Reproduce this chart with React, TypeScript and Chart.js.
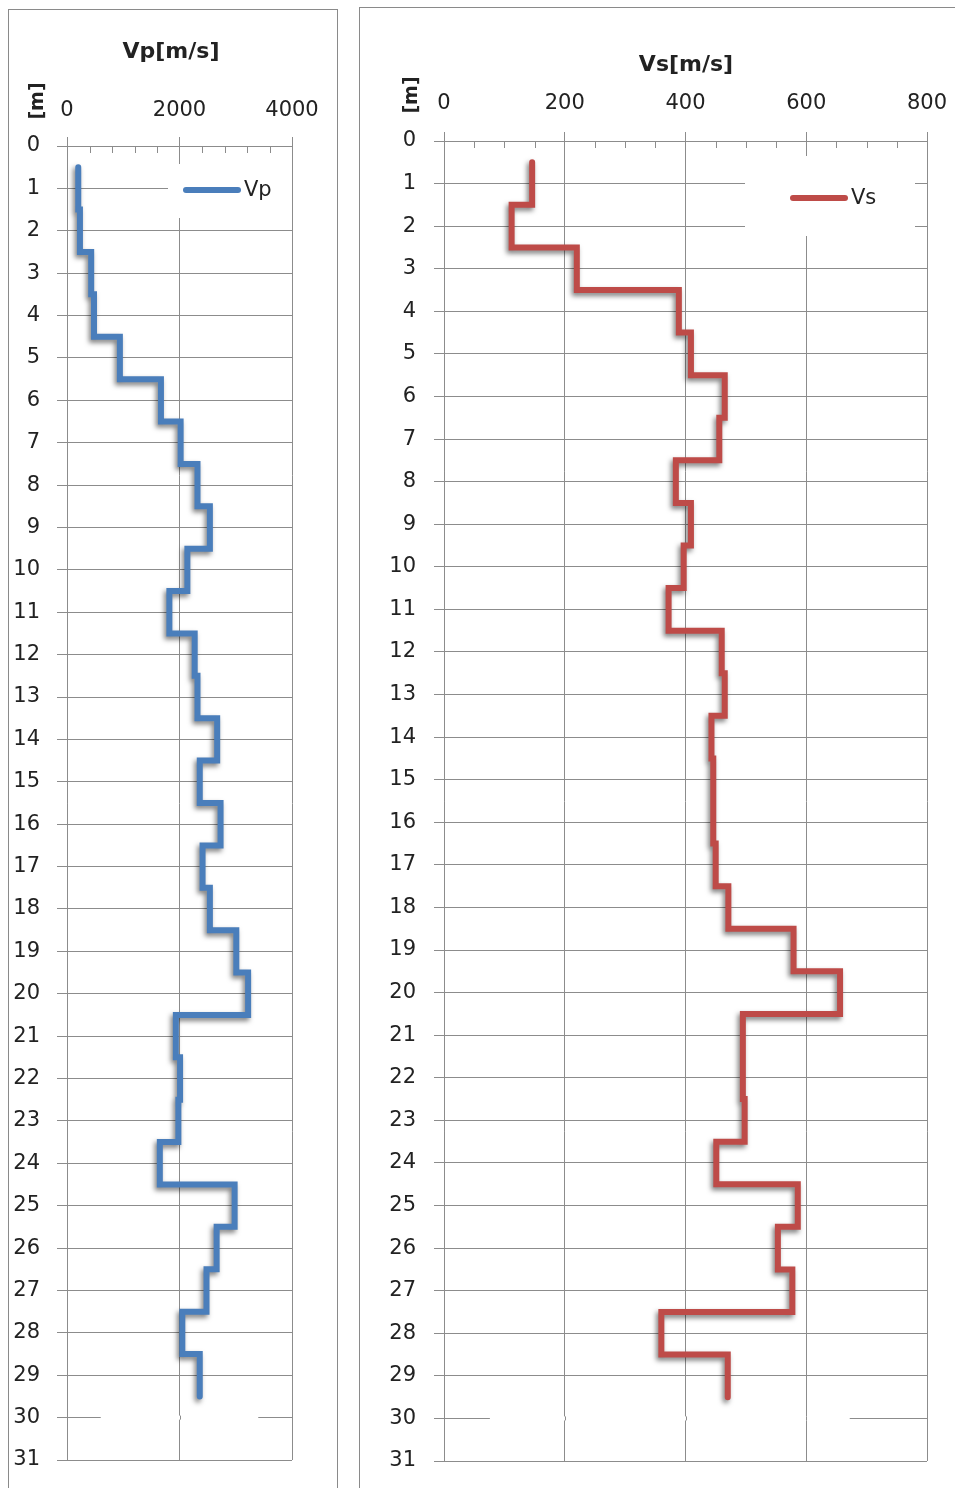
import React, { useEffect, useRef } from 'react';
import { Chart, registerables } from 'chart.js';

Chart.register(...registerables);

// ---- data ----
const depthBounds = [
  0.5, 1.5, 2.5, 3.5, 4.5, 5.5, 6.5, 7.5, 8.5, 9.5,
  10.5, 11.5, 12.5, 13.5, 14.5, 15.5, 16.5, 17.5, 18.5, 19.5,
  20.5, 21.5, 22.5, 23.5, 24.5, 25.5, 26.5, 27.5, 28.5, 29.5,
];
const vpValues = [
  200, 230, 430, 480, 940, 1670, 2020, 2320, 2540, 2140,
  1820, 2270, 2320, 2670, 2360, 2730, 2410, 2540, 3010, 3220,
  1935, 2010, 1980, 1650, 2980, 2660, 2480, 2050, 2360,
];
const vsValues = [
  146, 112, 220, 389, 409, 465, 456, 384, 409, 397,
  372, 460, 465, 443, 446, 446, 450, 471, 579, 656,
  495, 495, 498, 451, 586, 553, 577, 360, 470,
];
const depthTicks = [
  0, 1, 2, 3, 4, 5, 6, 7, 8, 9, 10, 11, 12, 13, 14, 15,
  16, 17, 18, 19, 20, 21, 22, 23, 24, 25, 26, 27, 28, 29, 30, 31,
];
const vpTicks = [0, 2000, 4000];
const vsTicks = [0, 200, 400, 600, 800];
const vpMinorStep = 400;
const vsMinorStep = 50;

const FONT = '"DejaVu Sans", sans-serif';
const GRID = '#8c8c8c';
const TEXT = '#222222';
const VP_COLOR = '#4A7EBB';
const VS_COLOR = '#BE4B48';

function buildSteps(values: number[]) {
  const pts = values.map((v, i) => ({ x: v, y: depthBounds[i] }));
  pts.push({ x: values[values.length - 1], y: depthBounds[values.length] });
  return pts;
}

const decorPlugin = {
  id: 'decor',
  beforeDatasetsDraw(chart: any, _args: any, o: any) {
    const ctx = chart.ctx;
    const xs = chart.scales.x;
    const ys = chart.scales.y;
    const area = chart.chartArea;
    ctx.save();
    // minor tick marks (inside)
    ctx.strokeStyle = GRID;
    ctx.lineWidth = 1;
    ctx.beginPath();
    const majors: number[] = o.majorTicks;
    for (let v = xs.min; v <= xs.max + 1e-9; v += o.minorStep) {
      if (majors.some((m: number) => Math.abs(m - v) < 1e-6)) continue;
      const px = Math.round(xs.getPixelForValue(v)) + 0.5;
      ctx.moveTo(px, area.top);
      ctx.lineTo(px, area.top + o.minorLen);
    }
    ctx.stroke();
    // partially hidden gridline
    const gy = ys.getPixelForValue(o.gapDepth);
    const w = area.right - area.left;
    const gx1 = area.left + w * o.gapFrom;
    const gx2 = area.left + w * o.gapTo;
    ctx.fillStyle = '#ffffff';
    ctx.fillRect(gx1, gy - 2, gx2 - gx1, 4);
    ctx.beginPath();
    for (const v of majors) {
      const px = Math.round(xs.getPixelForValue(v)) + 0.5;
      if (px > gx1 && px < gx2) {
        ctx.moveTo(px, gy - 2);
        ctx.lineTo(px, gy + 2);
      }
    }
    ctx.stroke();
    // legend
    const L = o.legend;
    const ds = chart.data.datasets[0];
    ctx.fillStyle = '#ffffff';
    ctx.fillRect(L.boxX, L.boxY, L.boxW, L.boxH);
    ctx.strokeStyle = ds.borderColor;
    ctx.lineWidth = 6;
    ctx.lineCap = 'round';
    ctx.beginPath();
    ctx.moveTo(L.x1, L.y);
    ctx.lineTo(L.x2, L.y);
    ctx.stroke();
    ctx.fillStyle = TEXT;
    ctx.font = `21px ${FONT}`;
    ctx.textBaseline = 'middle';
    ctx.textAlign = 'left';
    ctx.fillText(ds.label, L.textX, L.y + 1);
    ctx.restore();
    // shadow for the data line
    ctx.save();
    ctx.shadowColor = 'rgba(0,0,0,0.5)';
    ctx.shadowBlur = 5;
    ctx.shadowOffsetX = -2;
    ctx.shadowOffsetY = 3;
  },
  afterDatasetsDraw(chart: any) {
    chart.ctx.restore();
  },
  afterDraw(chart: any, _args: any, o: any) {
    const ctx = chart.ctx;
    ctx.save();
    ctx.fillStyle = TEXT;
    ctx.font = `bold 22px ${FONT}`;
    ctx.textAlign = 'center';
    ctx.textBaseline = 'alphabetic';
    ctx.fillText(o.title, o.titleX, o.titleY);
    ctx.translate(o.unitX, o.unitY);
    ctx.rotate(-Math.PI / 2);
    ctx.font = `bold 19px ${FONT}`;
    ctx.textBaseline = 'middle';
    ctx.fillText(o.unit, 0, 0);
    ctx.restore();
  },
};

function zeroPadding(s: any) {
  s.paddingLeft = 0;
  s.paddingRight = 0;
  s.paddingTop = 0;
  s.paddingBottom = 0;
}

function makeConfig(opts: {
  label: string;
  values: number[];
  color: string;
  xTicks: number[];
  minorStep: number;
  xMax: number;
  padRight: number;
  padBottom: number;
  xHeight: number;
  yWidth: number;
  xTickPad: number;
  yTickPad: number;
  xTickLen: number;
  decor: any;
}) {
  return {
    type: 'scatter' as const,
    data: {
      datasets: [
        {
          label: opts.label,
          data: buildSteps(opts.values),
          borderColor: opts.color,
          backgroundColor: opts.color,
          borderWidth: 6,
          showLine: true,
          stepped: 'after',
          pointRadius: 0,
          pointHoverRadius: 0,
          borderJoinStyle: 'miter',
          borderCapStyle: 'round',
          fill: false,
        },
      ],
    },
    options: {
      animation: false,
      responsive: false,
      events: [],
      layout: { padding: { left: 0, top: 0, right: opts.padRight, bottom: opts.padBottom } },
      scales: {
        x: {
          type: 'linear',
          position: 'top',
          min: 0,
          max: opts.xMax,
          afterBuildTicks: (s: any) => {
            s.ticks = opts.xTicks.map((v) => ({ value: v }));
          },
          afterFit: (s: any) => {
            s.height = opts.xHeight;
            zeroPadding(s);
          },
          ticks: {
            autoSkip: false,
            maxRotation: 0,
            padding: opts.xTickPad,
            color: TEXT,
            font: { family: FONT, size: 21 },
            callback: (v: any) => String(v),
          },
          grid: { color: GRID, lineWidth: 1, tickLength: opts.xTickLen, drawTicks: true },
          border: { display: true, color: GRID, width: 1 },
        },
        y: {
          type: 'linear',
          position: 'left',
          min: 0,
          max: 31,
          reverse: true,
          afterBuildTicks: (s: any) => {
            s.ticks = depthTicks.map((v) => ({ value: v }));
          },
          afterFit: (s: any) => {
            s.width = opts.yWidth;
            zeroPadding(s);
          },
          ticks: {
            autoSkip: false,
            padding: opts.yTickPad,
            color: TEXT,
            font: { family: FONT, size: 21 },
            callback: (v: any) => String(v),
          },
          grid: { color: GRID, lineWidth: 1, tickLength: 10, drawTicks: true },
          border: { display: true, color: GRID, width: 1 },
        },
      },
      plugins: {
        legend: { display: false },
        tooltip: { enabled: false },
        title: { display: false },
        decor: { ...opts.decor, majorTicks: opts.xTicks, minorStep: opts.minorStep },
      },
    },
    plugins: [decorPlugin],
  };
}

function ChartCanvas({ config, left, width }: { config: any; left: number; width: number }) {
  const ref = useRef<HTMLCanvasElement | null>(null);
  useEffect(() => {
    if (!ref.current) return;
    const chart = new Chart(ref.current, config);
    return () => chart.destroy();
  }, []);
  return (
    <canvas
      ref={ref}
      width={width}
      height={1488}
      style={{ position: 'absolute', left, top: 0, width, height: 1488, display: 'block' }}
    />
  );
}

export default function App() {
  const vpConfig = makeConfig({
    label: 'Vp',
    values: vpValues,
    color: VP_COLOR,
    xTicks: vpTicks,
    minorStep: vpMinorStep,
    xMax: 4000,
    padRight: 56,
    padBottom: 28,
    xHeight: 146,
    yWidth: 67,
    xTickPad: 14,
    yTickPad: 17,
    xTickLen: 9,
    decor: {
      minorLen: 7,
      gapDepth: 30,
      gapFrom: 0.15,
      gapTo: 0.85,
      legend: { boxX: 168, boxY: 164, boxW: 124, boxH: 54, x1: 186, x2: 238, y: 190, textX: 244 },
      title: 'Vp[m/s]',
      titleX: 171,
      titleY: 58,
      unit: '[m]',
      unitX: 38,
      unitY: 101,
    },
  });
  const vsConfig = makeConfig({
    label: 'Vs',
    values: vsValues,
    color: VS_COLOR,
    xTicks: vsTicks,
    minorStep: vsMinorStep,
    xMax: 800,
    padRight: 28,
    padBottom: 27,
    xHeight: 141,
    yWidth: 96,
    xTickPad: 16,
    yTickPad: 18,
    xTickLen: 9,
    decor: {
      minorLen: 7,
      gapDepth: 30,
      gapFrom: 0.095,
      gapTo: 0.84,
      legend: { boxX: 397, boxY: 156, boxW: 170, boxH: 80, x1: 445, x2: 497, y: 198, textX: 503 },
      title: 'Vs[m/s]',
      titleX: 338,
      titleY: 71,
      unit: '[m]',
      unitX: 64,
      unitY: 95,
    },
  });
  return (
    <div
      style={{
        position: 'absolute',
        left: 0,
        top: 0,
        width: 955,
        height: 1488,
        overflow: 'hidden',
        background: '#ffffff',
      }}
    >
      <div
        style={{
          position: 'absolute',
          left: 8,
          top: 9,
          width: 328,
          height: 1500,
          border: '1px solid #8a8a8a',
        }}
      />
      <div
        style={{
          position: 'absolute',
          left: 359,
          top: 7,
          width: 700,
          height: 1500,
          border: '1px solid #8a8a8a',
        }}
      />
      <ChartCanvas config={vpConfig} left={0} width={348} />
      <ChartCanvas config={vsConfig} left={348} width={607} />
    </div>
  );
}
